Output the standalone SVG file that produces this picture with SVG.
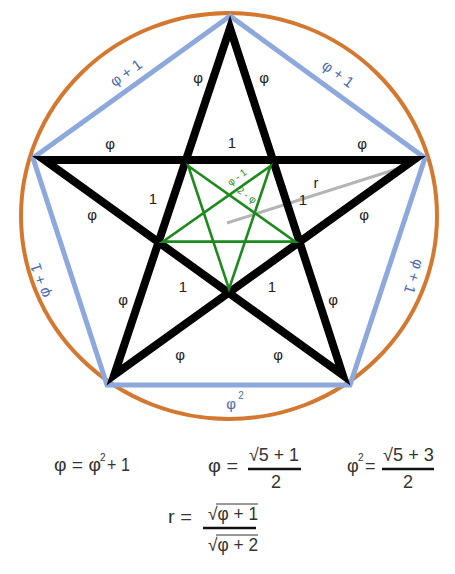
<svg xmlns="http://www.w3.org/2000/svg" width="455" height="574" viewBox="0 0 455 574">
<style>
.lbl{font-family:"Liberation Sans","DejaVu Sans",sans-serif;font-size:15px;fill:#222;text-anchor:middle}
.blu{font-family:"Liberation Sans","DejaVu Sans",sans-serif;font-size:15px;fill:#4a6bb3;text-anchor:middle}
.grn{font-family:"Liberation Sans","DejaVu Sans",sans-serif;font-size:10px;fill:#1e8a1e;text-anchor:middle}
.eq{font-family:"Liberation Sans","DejaVu Sans",sans-serif;font-size:18px;fill:#333}
.eqs{font-family:"Liberation Sans","DejaVu Sans",sans-serif;font-size:10px;fill:#333}
.mid{text-anchor:middle}
</style>
<rect width="455" height="574" fill="#fff"/>
<g id="circle"><ellipse cx="229" cy="216" rx="208" ry="203" fill="none" stroke="#d4772f" stroke-width="4"/></g>
<g id="pentagon"><polygon points="230,16 425,158 350,385 107,385 33,158" fill="none" stroke="#8da8dc" stroke-width="5" stroke-linejoin="miter"/></g>
<g id="radius"><line x1="227" y1="223" x2="400" y2="168" stroke="#b4b4b4" stroke-width="3"/></g>
<g id="star" fill="none" stroke="#000" stroke-width="8" stroke-linejoin="miter" stroke-miterlimit="20">
<polygon points="230,28 342.8,375 44.4,160 413.6,160 114.2,375"/>
</g>
<g id="inner-star" fill="none" stroke="#1e8a1e" stroke-width="2.6">
<polygon points="188.3,166 295.2,241.6 162.8,241.6 270.5,166 229,289"/>
</g>
<g id="labels">
<text class="lbl" x="198" y="83">φ</text>
<text class="lbl" x="264" y="83">φ</text>
<text class="lbl" x="110" y="149">φ</text>
<text class="lbl" x="232" y="148">1</text>
<text class="lbl" x="362" y="149">φ</text>
<text class="lbl" x="153" y="204">1</text>
<text class="lbl" x="303" y="205">1</text>
<text class="lbl" x="316" y="188">r</text>
<text class="lbl" x="92" y="220">φ</text>
<text class="lbl" x="364" y="220">φ</text>
<text class="lbl" x="183" y="292">1</text>
<text class="lbl" x="272" y="292">1</text>
<text class="lbl" x="123" y="305">φ</text>
<text class="lbl" x="333" y="305">φ</text>
<text class="lbl" x="180" y="360">φ</text>
<text class="lbl" x="278" y="360">φ</text>
</g>
<g id="green-labels">
<text class="grn" transform="translate(239,180) rotate(-36)">φ - 1</text>
<text class="grn" transform="translate(245,198) rotate(36)">2 - φ</text>
</g>
<g id="edge-labels">
<text class="blu" transform="translate(129,77) rotate(-36)">φ + 1</text>
<text class="blu" transform="translate(335,78) rotate(36)">φ + 1</text>
<text class="blu" transform="translate(45,279) rotate(-108)">φ + 1</text>
<text class="blu" transform="translate(409,275) rotate(108)">φ + 1</text>
<text class="blu" x="231" y="409">φ</text>
<text class="blu" x="241" y="399" style="font-size:10px">2</text>
</g>
<g id="equations">
<text class="eq" x="54" y="471" textLength="47" lengthAdjust="spacingAndGlyphs">φ = φ</text>
<text class="eqs" x="100" y="461">2</text>
<text class="eq" x="107" y="471" textLength="23" lengthAdjust="spacingAndGlyphs">+ 1</text>

<text class="eq" x="208" y="472" textLength="30" lengthAdjust="spacingAndGlyphs">φ =</text>
<text class="eq" x="249" y="461" textLength="50" lengthAdjust="spacingAndGlyphs">√5 + 1</text>
<line x1="248" y1="469" x2="301" y2="469" stroke="#111" stroke-width="2.5"/>
<text class="eq mid" x="276" y="488">2</text>

<text class="eq" x="347" y="472">φ</text>
<text class="eqs" x="358" y="461">2</text>
<text class="eq" x="365" y="472">=</text>
<text class="eq" x="383" y="461" textLength="51" lengthAdjust="spacingAndGlyphs">√5 + 3</text>
<line x1="382" y1="469" x2="434" y2="469" stroke="#111" stroke-width="2.5"/>
<text class="eq mid" x="408" y="488">2</text>

<text class="eq" x="168" y="523" textLength="24" lengthAdjust="spacingAndGlyphs">r =</text>
<text class="eq" x="208" y="520" textLength="50" lengthAdjust="spacingAndGlyphs">√φ + 1</text>
<line x1="216" y1="504" x2="258" y2="504" stroke="#333" stroke-width="1.2"/>
<line x1="203" y1="528" x2="256" y2="528" stroke="#111" stroke-width="2.5"/>
<text class="eq" x="208" y="551" textLength="50" lengthAdjust="spacingAndGlyphs">√φ + 2</text>
<line x1="216" y1="535" x2="258" y2="535" stroke="#333" stroke-width="1.2"/>
</g>
</svg>
